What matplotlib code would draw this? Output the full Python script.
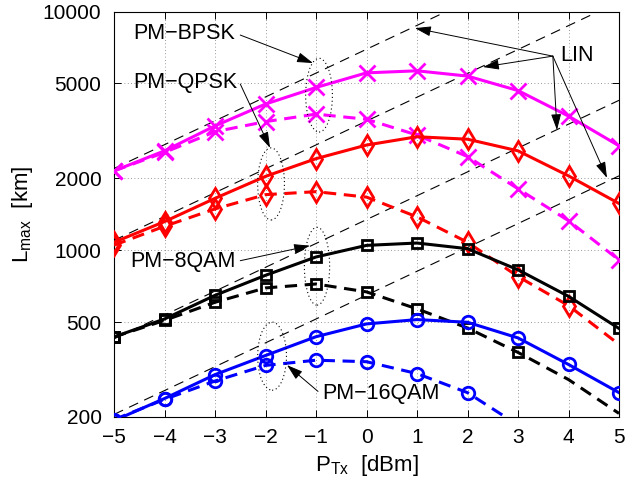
import matplotlib
matplotlib.use("Agg")
import matplotlib.pyplot as plt
from matplotlib.patches import Ellipse
import numpy as np

plt.rcParams['font.family'] = ['Liberation Sans', 'DejaVu Sans']
plt.rcParams['mathtext.fontset'] = 'custom'
plt.rcParams['mathtext.rm'] = 'Liberation Sans'
plt.rcParams['mathtext.it'] = 'Liberation Sans'

# Daten: Sendeleistung [dBm] und maximale Reichweite [km]
ptx = [-5, -4, -3, -2, -1, 0, 1, 2, 3, 4, 5]

bpsk_solid = [2150, 2610, 3320, 4100, 4810, 5540, 5650, 5370, 4670, 3650, 2740]
bpsk_dash = [2150, 2570, 3140, 3460, 3720, 3540, 3040, 2470, 1810, 1330, 910]
qpsk_solid = [1080, 1318, 1650, 2040, 2420, 2760, 2990, 2920, 2610, 2050, 1570]
qpsk_dash = [1050, 1260, 1490, 1710, 1760, 1670, 1380, 1080, 776, 586, 403]
qam8_solid = [433, 515, 647, 785, 937, 1048, 1072, 1015, 828, 641, 470]
qam8_dash = [433, 508, 605, 695, 722, 669, 568, 472, 373, 287, 207]
qam16_solid = [193, 239, 301, 362, 434, 491, 512, 499, 429, 332, 253]
qam16_dash = [195, 237, 283, 329, 346, 341, 304, 253, 185]

# lineare Näherung (LIN): Startwert bei -5 dBm, 1 dB -> Faktor 10^0.1
lin_start = [2200, 1100, 425, 205]

fig = plt.figure(figsize=(6.25, 4.86), dpi=100)
ax = fig.add_axes([0.1824, 0.142, 0.808, 0.834])
ax.set_yscale('log')

# LIN-Geraden
p = np.array(ptx, dtype=float)
for l0 in lin_start:
    ax.plot(p, l0 * 10 ** ((p + 5) / 10), color='k', lw=0.8, dashes=(9, 6), zorder=2)

kurven = [
    (bpsk_solid, bpsk_dash, 'magenta', 'x', 11, 11),
    (qpsk_solid, qpsk_dash, 'red', 'd', 10, 10),
    (qam8_solid, qam8_dash, 'black', 's', 7, 9),
    (qam16_solid, qam16_dash, 'blue', 'o', 9, 8),
]
for solid, dash, farbe, marker, ms, n_dash in kurven:
    ax.plot(ptx, solid, color=farbe, lw=2.2, marker=marker, ms=ms, mew=2,
            mfc='none', zorder=3)
    ax.plot(ptx[:len(dash)], dash, color=farbe, lw=2.2, dashes=(4, 2.5),
            marker=marker, ms=ms, mew=2, mfc='none', markevery=list(range(n_dash)),
            zorder=3)

ax.set_xlim(-5, 5)
ax.set_ylim(200, 10000)
ax.set_xticks(ptx)
yt = [200, 500, 1000, 2000, 5000, 10000]
ax.set_yticks(yt)
ax.set_yticklabels([str(v) for v in yt])
ax.minorticks_off()
ax.tick_params(direction='in', length=5, width=0.7, top=True, right=True, labelsize=15)
ax.tick_params(axis='x', pad=8)
ax.tick_params(axis='y', pad=9)
for s in ax.spines.values():
    s.set_linewidth(0.8)
ax.grid(True, color='#777777', lw=0.6, dashes=(1, 3))

ax.set_xlabel(r'P$_{\rm Tx}$  [dBm]', fontsize=16, labelpad=4)
ax.set_ylabel(r'L$_{\rm max}$  [km]', fontsize=16, labelpad=6)

# gepunktete Ellipsen (Achsenkoordinaten)
for cx, cy, w, h in [(0.406, 0.794, 0.053, 0.182), (0.311, 0.575, 0.053, 0.178),
                     (0.402, 0.372, 0.050, 0.192), (0.313, 0.150, 0.057, 0.168)]:
    ax.add_patch(Ellipse((cx, cy), w, h, transform=ax.transAxes, fill=False,
                         ec='k', lw=0.8, ls=(0, (1, 2.5)), zorder=4))

pfeil = dict(arrowstyle='-|>,head_length=0.7,head_width=0.22', color='k', lw=0.7,
             shrinkA=0, shrinkB=0, mutation_scale=14)
fs = 15.5
ax.text(-4.62, 8130, 'PM−BPSK', fontsize=fs, ha='left', va='center')
ax.annotate('', xy=(-1.06, 6090), xytext=(-2.5, 7980), arrowprops=pfeil)
ax.text(-4.62, 5070, 'PM−QPSK', fontsize=fs, ha='left', va='center')
ax.annotate('', xy=(-1.91, 2685), xytext=(-2.5, 4975), arrowprops=pfeil)
ax.text(-4.68, 895, 'PM−8QAM', fontsize=fs, ha='left', va='center')
ax.annotate('', xy=(-1.12, 1045), xytext=(-2.5, 904), arrowprops=pfeil)
ax.text(-0.88, 251, 'PM−16QAM', fontsize=fs, ha='left', va='center')
ax.annotate('', xy=(-1.574, 330), xytext=(-0.96, 256), arrowprops=pfeil)
ax.text(3.83, 6580, 'LIN', fontsize=fs, ha='left', va='center')
for tip in [(0.96, 8530), (2.307, 5860), (3.772, 3190), (4.762, 2010)]:
    ax.annotate('', xy=tip, xytext=(3.69, 6510), arrowprops=pfeil)

fig.savefig('out.png', dpi=100)
